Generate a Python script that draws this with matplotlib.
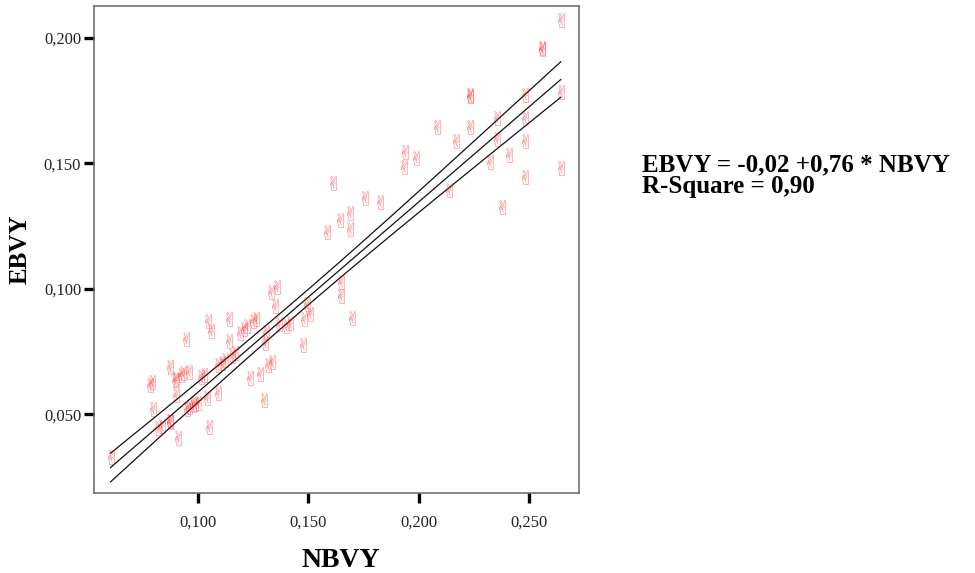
import numpy as np
import matplotlib
matplotlib.use('Agg')
import matplotlib.pyplot as plt
from matplotlib.ticker import FuncFormatter

# NBVY / EBVY değerleri
nbvy = [0.0606, 0.0785, 0.0795, 0.0800, 0.0820, 0.0840, 0.0875, 0.0877, 0.0875,
        0.0898, 0.0903, 0.0900, 0.0910, 0.0925, 0.0934, 0.0947, 0.0950, 0.0963,
        0.0977, 0.0960, 0.0990, 0.1003, 0.1015, 0.1029, 0.1042, 0.1047, 0.1050,
        0.1060, 0.1090, 0.1090, 0.1110, 0.1124, 0.1140, 0.1142, 0.1156, 0.1170,
        0.1190, 0.1210, 0.1224, 0.1237, 0.1250, 0.1264, 0.1280, 0.1300, 0.1305,
        0.1310, 0.1320, 0.1338, 0.1333, 0.1350, 0.1360, 0.1370, 0.1400, 0.1418,
        0.1477, 0.1480, 0.1495, 0.1510, 0.1586, 0.1610, 0.1645, 0.1650, 0.1650,
        0.1690, 0.1690, 0.1698, 0.1757, 0.1825, 0.1934, 0.1938, 0.1988, 0.2082,
        0.2137, 0.2168, 0.2232, 0.2232, 0.2232, 0.2322, 0.2354, 0.2354, 0.2376,
        0.2408, 0.2480, 0.2480, 0.2480, 0.2480, 0.2557, 0.2557, 0.2642, 0.2642,
        0.2642]
ebvy = [0.0330, 0.0617, 0.0630, 0.0520, 0.0445, 0.0453, 0.0470, 0.0472, 0.0690,
        0.0636, 0.0642, 0.0577, 0.0405, 0.0657, 0.0665, 0.0800, 0.0520, 0.0530,
        0.0535, 0.0670, 0.0540, 0.0545, 0.0647, 0.0655, 0.0565, 0.0870, 0.0450,
        0.0830, 0.0585, 0.0697, 0.0705, 0.0717, 0.0790, 0.0880, 0.0730, 0.0742,
        0.0823, 0.0840, 0.0852, 0.0645, 0.0870, 0.0880, 0.0660, 0.0557, 0.0785,
        0.0828, 0.0695, 0.0707, 0.0988, 0.0930, 0.1008, 0.0860, 0.0850, 0.0862,
        0.0777, 0.0880, 0.0940, 0.0900, 0.1227, 0.1420, 0.1275, 0.1028, 0.0970,
        0.1300, 0.1240, 0.0884, 0.1360, 0.1347, 0.1487, 0.1547, 0.1523, 0.1646,
        0.1395, 0.1587, 0.1774, 0.1770, 0.1646, 0.1507, 0.1682, 0.1595, 0.1327,
        0.1535, 0.1774, 0.1680, 0.1587, 0.1447, 0.1958, 0.1955, 0.2073, 0.1786,
        0.1483]

# Grafikteki regresyon doğrusu (okunan katsayılar)
intercept = -0.0173
slope = 0.7596

x_ticks = [0.100, 0.150, 0.200, 0.250]
y_ticks = [0.050, 0.100, 0.150, 0.200]

x = np.array(nbvy)
y = np.array(ebvy)

# Ortalama için %95 güven aralığı
n = len(x)
resid = y - (intercept + slope * x)
s = np.sqrt(np.sum(resid ** 2) / (n - 2))
xs = np.linspace(x.min(), x.max(), 200)
fit = intercept + slope * xs
se = s * np.sqrt(1.0 / n + (xs - x.mean()) ** 2 / np.sum((x - x.mean()) ** 2))
t = 1.99
upper = fit + t * se
lower = fit - t * se

plt.rcParams['font.family'] = ['Liberation Serif', 'DejaVu Serif']

fig = plt.figure(figsize=(9.75, 5.73), dpi=100)
ax = fig.add_axes([0.0961, 0.1401, 0.4981, 0.8499])

ax.scatter(x, y, marker='$\u270C$', s=110, color='red', alpha=0.5, linewidths=0, zorder=3)
ax.plot(xs, fit, color='#111111', lw=0.9, zorder=2)
ax.plot(xs, upper, color='#111111', lw=0.9, zorder=2)
ax.plot(xs, lower, color='#111111', lw=0.9, zorder=2)

ax.set_xlim(0.053, 0.2726)
ax.set_ylim(0.0187, 0.2128)
ax.set_xticks(x_ticks)
ax.set_yticks(y_ticks)

fmt = FuncFormatter(lambda v, p: f"{v:.3f}".replace('.', ','))
ax.xaxis.set_major_formatter(fmt)
ax.yaxis.set_major_formatter(fmt)

ax.tick_params(direction='out', length=7.5, width=2.4, color='black',
               labelsize=12, labelcolor='#222222')
ax.tick_params(axis='x', pad=8)
ax.tick_params(axis='y', pad=1.5)
for sp in ax.spines.values():
    sp.set_color('#666666')
    sp.set_linewidth(1.1)

fig.text(0.349, 0.011, 'NBVY', ha='center', va='baseline', fontsize=20, fontweight='bold')
fig.text(0.0205, 0.5654, 'EBVY', ha='center', va='center', rotation=90,
         fontsize=18, fontweight='bold')

fig.text(0.658, 0.7004, 'EBVY = -0,02 +0,76 * NBVY', ha='left', va='baseline',
         fontsize=18, fontweight='bold')
fig.text(0.658, 0.6627, 'R-Square = 0,90', ha='left', va='baseline',
         fontsize=18, fontweight='bold')

fig.savefig('out.png', dpi=100)
